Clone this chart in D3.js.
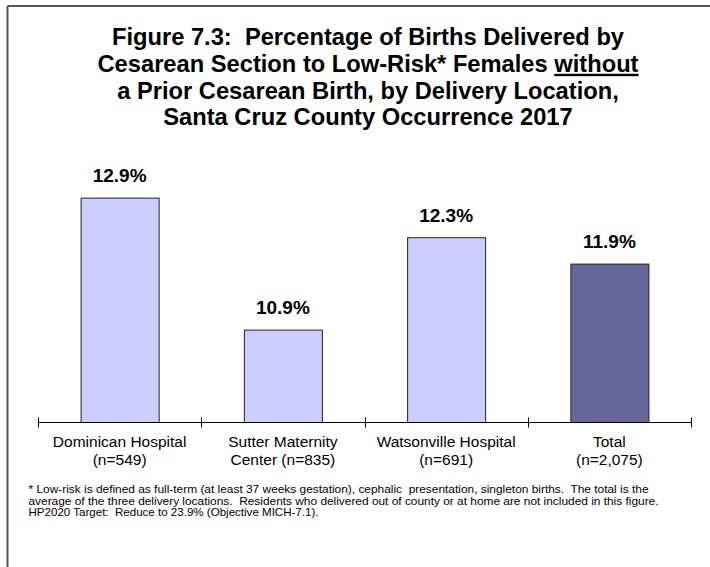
<!DOCTYPE html>
<html>
<head>
<meta charset="utf-8">
<script src="https://cdn.jsdelivr.net/npm/d3@7/dist/d3.min.js"></script>
<style>
  html, body { margin: 0; padding: 0; background: #fff; }
  svg { display: block; font-family: "Liberation Sans", Arial, sans-serif; }
  text { white-space: pre; }
</style>
</head>
<body>
<svg id="chart" width="710" height="567"></svg>
<script>
const categories = ["Dominican Hospital", "Sutter Maternity", "Watsonville Hospital", "Total"];
const categorySubLabels = ["(n=549)", "Center (n=835)", "(n=691)", "(n=2,075)"];
const values = [12.9, 10.9, 12.3, 11.9];
const barColors = ["#CCCCFF", "#CCCCFF", "#CCCCFF", "#666699"];
const titleLines = [
  ["Figure 7.3:  Percentage of Births Delivered by"],
  ["Cesarean Section to Low-Risk* Females ", "without"],
  ["a Prior Cesarean Birth, by Delivery Location,"],
  ["Santa Cruz County Occurrence 2017"]
];
const footnoteLines = [
  "* Low-risk is defined as full-term (at least 37 weeks gestation), cephalic  presentation, singleton births.  The total is the",
  "average of the three delivery locations.  Residents who delivered out of county or at home are not included in this figure.",
  "HP2020 Target:  Reduce to 23.9% (Objective MICH-7.1)."
];
const footnoteWidths = [620, 630, 290];

const svg = d3.select("#chart");

// outer frame (top and left edges visible)
svg.append("line").attr("x1", 7.5).attr("y1", 6).attr("x2", 710).attr("y2", 6)
  .attr("stroke", "#555").attr("stroke-width", 2);
svg.append("line").attr("x1", 7.5).attr("y1", 6).attr("x2", 7.5).attr("y2", 567)
  .attr("stroke", "#555").attr("stroke-width", 2);

// title
const title = svg.append("text").attr("text-anchor", "middle")
  .attr("font-weight", "bold").attr("font-size", 23.7).attr("fill", "#000");
titleLines.forEach((parts, i) => {
  const line = title.append("tspan").attr("x", 368).attr("y", 45 + i * 26.8);
  parts.forEach((p, j) => {
    const t = line.append("tspan").text(p);
    if (j === 1) t.attr("text-decoration", "underline");
  });
});

// scales
const x = d3.scaleBand().domain(categories).range([38, 691])
  .paddingInner(0.522).paddingOuter(0.261);
const y = d3.scaleLinear().domain([9.5, 13.5]).range([422, 158]);

// bars
svg.append("g").selectAll("rect").data(values).join("rect")
  .attr("x", (d, i) => x(categories[i]) + 0.5)
  .attr("y", d => y(d) + 0.5)
  .attr("width", x.bandwidth())
  .attr("height", d => y(9.5) - y(d))
  .attr("fill", (d, i) => barColors[i])
  .attr("stroke", "#222").attr("stroke-width", 1);

// value labels
svg.append("g").selectAll("text").data(values).join("text")
  .attr("x", (d, i) => x(categories[i]) + x.bandwidth() / 2)
  .attr("y", d => y(d) - 15.5)
  .attr("text-anchor", "middle").attr("font-weight", "bold").attr("font-size", 19)
  .text(d => d3.format(".1f")(d) + "%");

// category axis
const axisY = y(9.5) + 0.5;
svg.append("line").attr("x1", x.range()[0]).attr("x2", x.range()[1])
  .attr("y1", axisY).attr("y2", axisY).attr("stroke", "#000").attr("stroke-width", 1);
const boundaries = d3.range(categories.length + 1).map(i => x.range()[0] + i * x.step());
svg.append("g").selectAll("line").data(boundaries).join("line")
  .attr("x1", d => Math.round(d) + 0.5).attr("x2", d => Math.round(d) + 0.5)
  .attr("y1", axisY - 5).attr("y2", axisY + 5)
  .attr("stroke", "#000").attr("stroke-width", 1);

const catLabels = svg.append("g").attr("font-size", 15.5).attr("fill", "#000").attr("text-anchor", "middle");
categories.forEach((c, i) => {
  const cx = x(c) + x.bandwidth() / 2;
  const t = catLabels.append("text");
  t.append("tspan").attr("x", cx).attr("y", 446.5).text(c);
  t.append("tspan").attr("x", cx).attr("y", 465).text(categorySubLabels[i]);
});

// footnote
const foot = svg.append("g").attr("font-size", 10.5).attr("fill", "#000");
footnoteLines.forEach((l, i) => {
  foot.append("text").attr("x", 28.5).attr("y", 493 + i * 11.6)
    .attr("textLength", footnoteWidths[i]).attr("lengthAdjust", "spacingAndGlyphs")
    .text(l);
});
</script>
</body>
</html>
